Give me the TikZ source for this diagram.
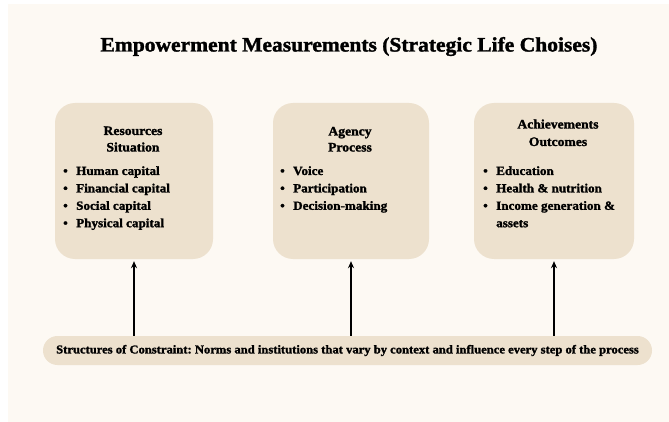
\documentclass[tikz,border=0pt]{standalone}
\usepackage{fontspec}
\setmainfont{Liberation Serif}[BoldFeatures={FakeBold=1.6, FakeStretch=1.05}]
\usetikzlibrary{arrows.meta}
\definecolor{bgc}{HTML}{FDF9F3}
\definecolor{boxc}{HTML}{EDE1CE}
\tikzset{
  panel/.style={fill=boxc, draw=none, rounded corners=20pt, inner sep=0pt},
  head/.style={font=\fontsize{13}{14}\selectfont\bfseries, inner sep=0pt, anchor=base},
  item/.style={font=\fontsize{12.5}{14}\selectfont\bfseries, inner sep=0pt, anchor=base west},
  arr/.style={-{Stealth[length=7pt,width=6pt]}, line width=1.4pt, black},
}
\newcommand{\bul}{\makebox[13pt][l]{\textbullet}}
\frenchspacing
\begin{document}
\begin{tikzpicture}[x=1pt,y=-1pt]
\useasboundingbox (0,0) rectangle (669,422);
\fill[white] (0,0) rectangle (669,422);
\fill[bgc] (8,4) rectangle (669,422);

\node[font=\fontsize{20.5}{22}\selectfont\bfseries, inner sep=0pt, anchor=base] (title) at (349,51.5) {Empowerment Measurements (Strategic Life Choises)};

\node[panel, minimum width=158pt, minimum height=156pt] (b1) at (134,181) {};
\node[panel, minimum width=156pt, minimum height=156pt] (b2) at (351,181) {};
\node[panel, minimum width=160pt, minimum height=156pt] (b3) at (554,181) {};

\node[fill=boxc, rounded corners=14.5pt, minimum width=609pt, minimum height=29pt, inner sep=0pt,
      font=\fontsize{12}{13}\selectfont\bfseries] (bar) at (347.5,350.5)
  {Structures of Constraint: Norms and institutions that vary by context and influence every step of the process};

% box 1
\node[head] (h1a) at (133,135) {Resources};
\node[head] (h1b) at (133,151.5) {Situation};
\node[item] (i1a) at (63,175) {\bul Human capital};
\node[item] (i1b) at (63,192.4) {\bul Financial capital};
\node[item] (i1c) at (63,209.8) {\bul Social capital};
\node[item] (i1d) at (63,227.2) {\bul Physical capital};

% box 2
\node[head] (h2a) at (350,135.5) {Agency};
\node[head] (h2b) at (350,151.5) {Process};
\node[item] (i2a) at (280,175) {\bul Voice};
\node[item] (i2b) at (280,192.4) {\bul Participation};
\node[item] (i2c) at (280,209.8) {\bul Decision-making};

% box 3
\node[head] (h3a) at (558,128.5) {Achievements};
\node[head] (h3b) at (558,146) {Outcomes};
\node[item] (i3a) at (483,175) {\bul Education};
\node[item] (i3b) at (483,192.4) {\bul Health \& nutrition};
\node[item] (i3c) at (483,209.8) {\bul Income generation \&};
\node[item] (i3d) at (496,227.2) {assets};

\draw[arr] (bar.north -| b1.south) -- ([yshift=-2pt]b1.south);
\draw[arr] (bar.north -| b2.south) -- ([yshift=-2pt]b2.south);
\draw[arr] (bar.north -| b3.south) -- ([yshift=-2pt]b3.south);
\end{tikzpicture}
\end{document}
